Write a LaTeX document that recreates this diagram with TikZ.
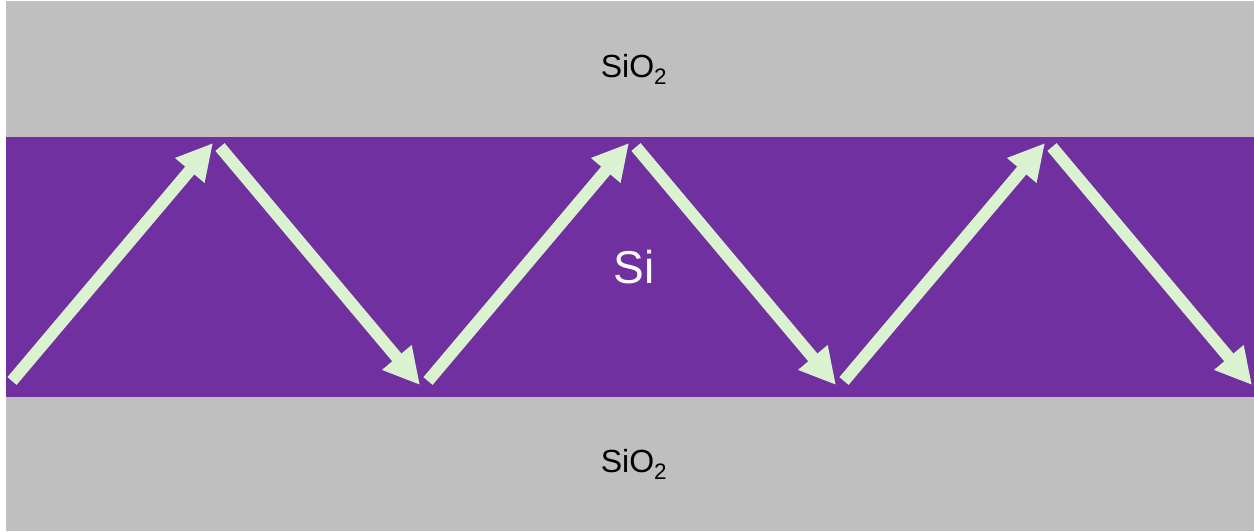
\documentclass[tikz,border=0pt]{standalone}
\usepackage{fontspec}
\setmainfont{Liberation Sans}
\usetikzlibrary{arrows.meta}
\definecolor{oxide}{HTML}{BFBFBF}
\definecolor{silicon}{HTML}{7030A0}
\definecolor{ray}{HTML}{DAF2D0}
\begin{document}
\begin{tikzpicture}[x=1pt,y=-1pt,
  layer/.style={fill=#1,draw=none},
  rayarrow/.style={draw=ray,line width=12pt,-{Triangle[length=36pt,width=36pt]}},
  oxlabel/.style={font=\fontsize{32}{38}\selectfont,text=black,inner sep=0pt},
  silabel/.style={font=\fontsize{46}{54}\selectfont,text=white,inner sep=0pt}]
\useasboundingbox (0,0) rectangle (1254,531);
\fill[white] (0,0) rectangle (1254,531);
\fill[layer=oxide] (6,1) rectangle (1254,531);
\fill[layer=silicon] (6,137) rectangle (1254,397);
\node[oxlabel] (top) at (634,69) {SiO\textsubscript{2}};
\node[oxlabel] (bot) at (634,464) {SiO\textsubscript{2}};
\node[silabel] (si) at (634,267) {Si};
\coordinate (a0) at (12,381);
\coordinate (t1) at (213,143);
\coordinate (s2) at (220,147);
\coordinate (t2) at (420,385);
\coordinate (s3) at (428,381);
\coordinate (t3) at (629,143);
\coordinate (s4) at (636,147);
\coordinate (t4) at (836,385);
\coordinate (s5) at (844,381);
\coordinate (t5) at (1045,143);
\coordinate (s6) at (1052,147);
\coordinate (t6) at (1252,385);
\draw[rayarrow] (a0) -- (t1);
\draw[rayarrow] (s2) -- (t2);
\draw[rayarrow] (s3) -- (t3);
\draw[rayarrow] (s4) -- (t4);
\draw[rayarrow] (s5) -- (t5);
\draw[rayarrow] (s6) -- (t6);
\end{tikzpicture}
\end{document}
